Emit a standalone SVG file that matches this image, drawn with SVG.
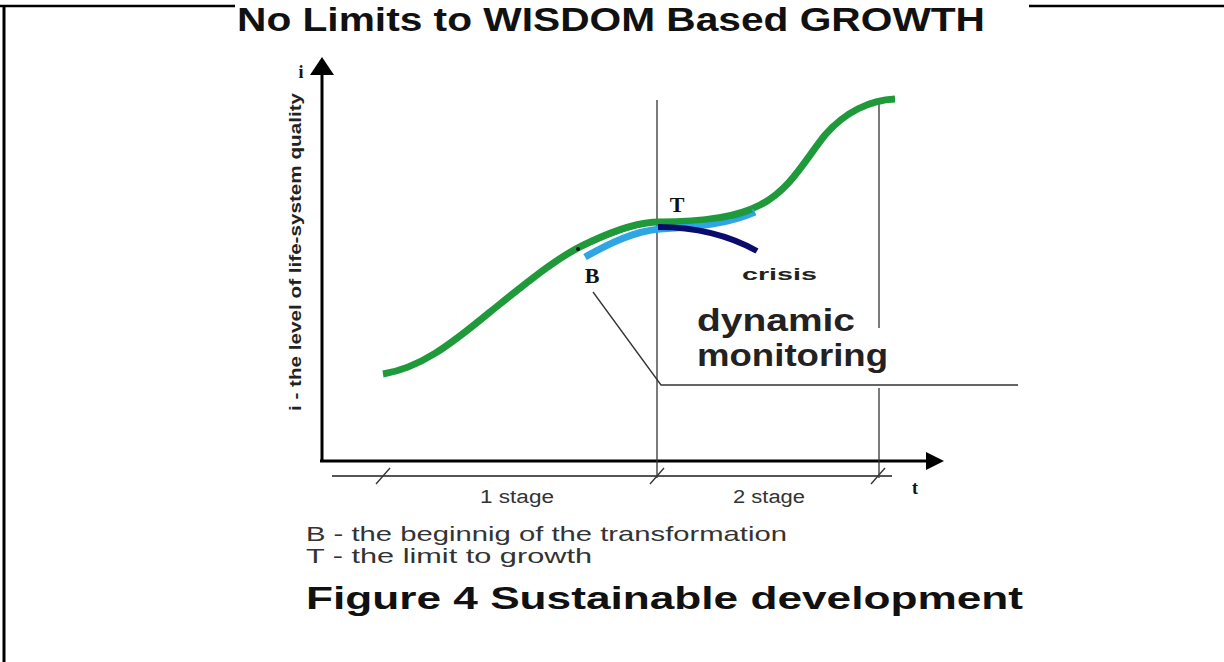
<svg xmlns="http://www.w3.org/2000/svg" width="1224" height="662" viewBox="0 0 1224 662">
<style>
.sans{font-family:"Liberation Sans",Arial,sans-serif}
.serif{font-family:"Liberation Serif","Times New Roman",serif;font-weight:bold;fill:#111}
.thin{stroke:#333;stroke-width:1.3;fill:none}
.gray{stroke:#555;stroke-width:2;fill:none}
.axis{stroke:#000;stroke-width:3;fill:none}
</style>
<rect width="1224" height="662" fill="#fff"/>
<g id="frame">
<line x1="0" y1="6" x2="235" y2="6" stroke="#000" stroke-width="2.5"/>
<line x1="1029" y1="6" x2="1224" y2="6" stroke="#000" stroke-width="2.5"/>
<line x1="4" y1="5" x2="4" y2="662" stroke="#000" stroke-width="3"/>
</g>
<g id="title">
<text class="sans" x="237" y="31" font-size="34" font-weight="bold" fill="#111" textLength="748" lengthAdjust="spacingAndGlyphs">No Limits to WISDOM Based GROWTH</text>
</g>
<g id="axes">
<line class="axis" x1="322" y1="461" x2="322" y2="75"/>
<path d="M322,57 L334,75 L310,75 Z" fill="#000"/>
<line class="axis" x1="320" y1="461" x2="926" y2="461"/>
<path d="M944,461 L926,452 L926,470 Z" fill="#000"/>
<text class="serif" x="301" y="78" font-size="18" text-anchor="middle">i</text>
<text class="serif" x="915" y="494" font-size="18" text-anchor="middle">t</text>
<text class="sans" transform="translate(301,252) rotate(-90)" font-size="17" font-weight="bold" fill="#222" text-anchor="middle" textLength="318" lengthAdjust="spacingAndGlyphs">i - the level of life-system quality</text>
</g>
<g id="connectors">
<line class="thin" x1="657" y1="100" x2="657" y2="478"/>
<line class="thin" x1="879" y1="100" x2="879" y2="328"/>
<line class="thin" x1="879" y1="388" x2="879" y2="478"/>
<polyline class="thin" points="593,292 661,385 1018,385"/>
<line class="gray" x1="332" y1="476" x2="892" y2="476"/>
<line class="thin" x1="376" y1="484" x2="390" y2="468"/>
<line class="thin" x1="650" y1="484" x2="664" y2="468"/>
<line class="thin" x1="871" y1="484" x2="885" y2="468"/>
</g>
<g id="curves">
<path d="M383,374 C420,368 450,345 490,312 C530,280 560,255 590,242 C615,230 640,222 660,222 C700,222 735,218 760,205 C790,190 805,160 825,135 C845,112 870,100 895,99" fill="none" stroke="#1e9a3a" stroke-width="7"/>
<path d="M585,257 C610,243 635,231 660,229 C700,227 730,223 755,212" fill="none" stroke="#2ea6e6" stroke-width="7"/>
<path d="M583,246 C615,232 640,222 660,222 C700,222 735,218 752,210" fill="none" stroke="#1e9a3a" stroke-width="5"/>
<path d="M658,227 C700,227 730,236 757,251" fill="none" stroke="#0b0b6e" stroke-width="6"/>
<circle cx="578" cy="249" r="2" fill="#111"/>
</g>
<g id="labels">
<text class="serif" x="677" y="212" font-size="22" text-anchor="middle">T</text>
<text class="serif" x="592" y="283" font-size="22" text-anchor="middle">B</text>
<text class="sans" x="742" y="280" font-size="17" font-weight="bold" fill="#222" textLength="75" lengthAdjust="spacingAndGlyphs">crisis</text>
<text class="sans" x="697" y="331" font-size="31" font-weight="bold" fill="#222" textLength="158" lengthAdjust="spacingAndGlyphs">dynamic</text>
<text class="sans" x="697" y="366" font-size="31" font-weight="bold" fill="#222" textLength="191" lengthAdjust="spacingAndGlyphs">monitoring</text>
<text class="sans" x="480" y="503" font-size="18" fill="#333" textLength="74" lengthAdjust="spacingAndGlyphs">1 stage</text>
<text class="sans" x="733" y="503" font-size="18" fill="#333" textLength="72" lengthAdjust="spacingAndGlyphs">2 stage</text>
</g>
<g id="legend">
<text class="sans" x="306" y="541" font-size="21" fill="#333" textLength="481" lengthAdjust="spacingAndGlyphs">B - the beginnig of the transformation</text>
<text class="sans" x="306" y="563" font-size="21" fill="#333" textLength="286" lengthAdjust="spacingAndGlyphs">T - the limit to growth</text>
<text class="sans" x="306" y="609" font-size="31" font-weight="bold" fill="#111" textLength="717" lengthAdjust="spacingAndGlyphs">Figure 4 Sustainable development</text>
</g>
</svg>
